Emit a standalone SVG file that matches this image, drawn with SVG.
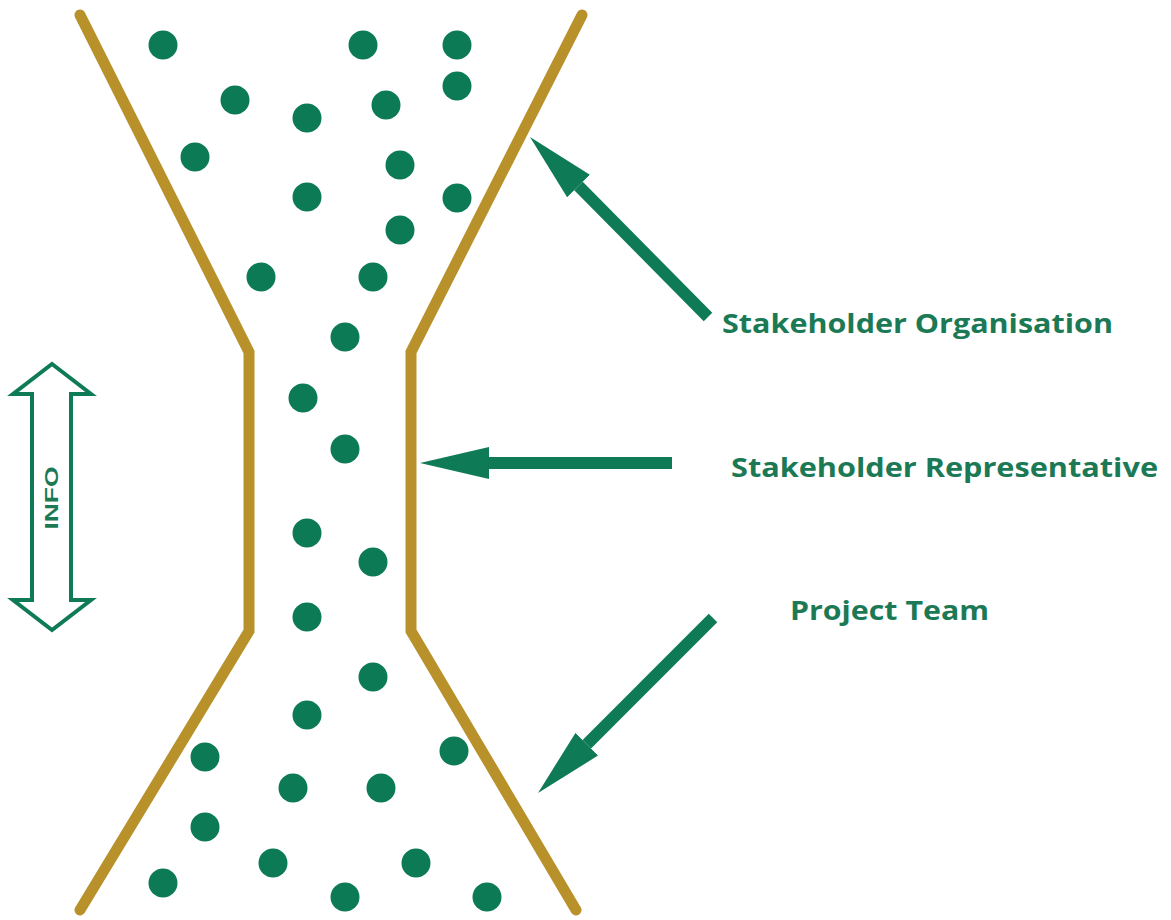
<svg xmlns="http://www.w3.org/2000/svg" width="1171" height="920" viewBox="0 0 1171 920">
  <style>
    .wall { fill: none; stroke: #B8912B; stroke-width: 11; stroke-linecap: round; stroke-linejoin: miter; }
    .dot { fill: #0B7A55; }
    .shaft { fill: none; stroke: #0E7B56; stroke-width: 12; stroke-linecap: butt; }
    .label { font-family: "Open Sans", "Lato", "Liberation Sans", sans-serif; font-weight: bold; font-size: 27px; fill: #1B7A55; }
    .info-outline { fill: #FFFFFF; stroke: #0E7B56; stroke-width: 4; stroke-linejoin: miter; }
    .info-text { font-family: "Liberation Sans", Arial, sans-serif; font-weight: bold; font-size: 18px; fill: #1B7A55; }
  </style>
  <defs>
    <marker id="head" viewBox="0 0 69 32" refX="0" refY="16" markerWidth="69" markerHeight="32" markerUnits="userSpaceOnUse" orient="auto">
      <path d="M0,0 L69,16 L0,32 Z" fill="#0E7B56"/>
    </marker>
  </defs>
  <rect width="1171" height="920" fill="#FFFFFF"/>

  <!-- funnel walls -->
  <g id="funnel">
    <polyline class="wall" points="80,15 249,352 249,631 80,910"/>
    <polyline class="wall" points="582,15 411,352 411,631 576,910"/>
  </g>

  <!-- information particles -->
  <g id="particles">
    <circle class="dot" cx="163" cy="45" r="14.5"/>
    <circle class="dot" cx="363" cy="45" r="14.5"/>
    <circle class="dot" cx="457" cy="45" r="14.5"/>
    <circle class="dot" cx="457" cy="86" r="14.5"/>
    <circle class="dot" cx="235" cy="100" r="14.5"/>
    <circle class="dot" cx="307" cy="118" r="14.5"/>
    <circle class="dot" cx="386" cy="105" r="14.5"/>
    <circle class="dot" cx="195" cy="157" r="14.5"/>
    <circle class="dot" cx="400" cy="165" r="14.5"/>
    <circle class="dot" cx="307" cy="197" r="14.5"/>
    <circle class="dot" cx="457" cy="198" r="14.5"/>
    <circle class="dot" cx="400" cy="230" r="14.5"/>
    <circle class="dot" cx="261" cy="277" r="14.5"/>
    <circle class="dot" cx="373" cy="277" r="14.5"/>
    <circle class="dot" cx="345" cy="337" r="14.5"/>
    <circle class="dot" cx="303" cy="398" r="14.5"/>
    <circle class="dot" cx="345" cy="449" r="14.5"/>
    <circle class="dot" cx="307" cy="533" r="14.5"/>
    <circle class="dot" cx="373" cy="562" r="14.5"/>
    <circle class="dot" cx="307" cy="617" r="14.5"/>
    <circle class="dot" cx="373" cy="677" r="14.5"/>
    <circle class="dot" cx="307" cy="715" r="14.5"/>
    <circle class="dot" cx="205" cy="757" r="14.5"/>
    <circle class="dot" cx="454" cy="751" r="14.5"/>
    <circle class="dot" cx="293" cy="788" r="14.5"/>
    <circle class="dot" cx="381" cy="788" r="14.5"/>
    <circle class="dot" cx="205" cy="827" r="14.5"/>
    <circle class="dot" cx="273" cy="863" r="14.5"/>
    <circle class="dot" cx="416" cy="863" r="14.5"/>
    <circle class="dot" cx="163" cy="883" r="14.5"/>
    <circle class="dot" cx="345" cy="897" r="14.5"/>
    <circle class="dot" cx="487" cy="897" r="14.5"/>
  </g>

  <!-- INFO double arrow -->
  <g id="info">
    <polygon class="info-outline" points="52,364 91,394 71,394 71,600 91,600 52,630 13,600 32,600 32,394 13,394"/>
    <text class="info-text" transform="translate(58,498) rotate(-90)" text-anchor="middle" textLength="63" lengthAdjust="spacingAndGlyphs">INFO</text>
  </g>

  <!-- labels -->
  <g id="stakeholder-organisation">
    <text class="label" x="722" y="333" textLength="391" lengthAdjust="spacingAndGlyphs">Stakeholder Organisation</text>
  </g>
  <g id="stakeholder-representative">
    <text class="label" x="731" y="477" textLength="427" lengthAdjust="spacingAndGlyphs">Stakeholder Representative</text>
  </g>
  <g id="project-team">
    <text class="label" x="790" y="620" textLength="199" lengthAdjust="spacingAndGlyphs">Project Team</text>
  </g>

  <!-- pointer arrows -->
  <g id="connectors">
    <line class="shaft" x1="708" y1="317" x2="578.5" y2="186" marker-end="url(#head)"/>
    <line class="shaft" x1="672" y1="463" x2="489" y2="463" marker-end="url(#head)"/>
    <line class="shaft" x1="713" y1="618" x2="586.8" y2="744.2" marker-end="url(#head)"/>
  </g>
</svg>
